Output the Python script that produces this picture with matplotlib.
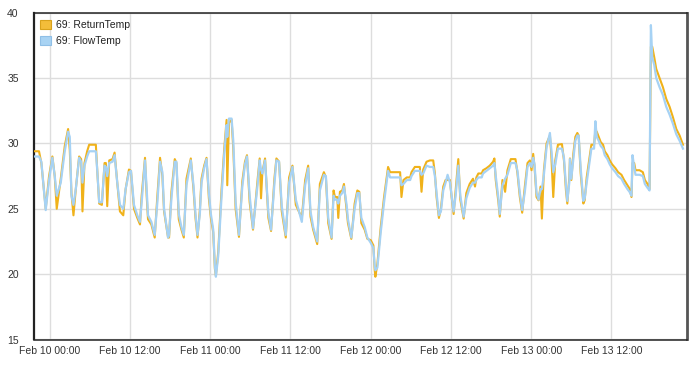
import numpy as np
import matplotlib
matplotlib.use("Agg")
import matplotlib.pyplot as plt
import matplotlib.dates as mdates
from matplotlib.patches import Patch

plt.rcParams['font.family'] = ['Liberation Sans', 'DejaVu Sans']

# hours after Feb 10 00:00
hours = [
    -2.35, -1.6, -1.25, -0.6, -0.1, 0.4, 0.75, 1.05, 1.65, 2.25, 2.75, 3.0, 3.25, 3.55, 3.9,
    4.4, 4.7, 4.9, 5.2, 5.6, 5.9, 6.9, 7.1, 7.4, 7.8, 8.2, 8.4, 8.6, 8.9, 9.4,
    9.7, 10.1, 10.5, 11.0, 11.35, 11.85, 12.15, 12.6, 13.1, 13.5, 13.75, 14.25, 14.5, 14.7, 15.2,
    15.7, 16.1, 16.5, 16.85, 17.1, 17.7,
    17.85, 18.2, 18.7, 18.95, 19.3, 19.7, 20.05, 20.45, 21.1, 21.5, 21.8, 22.1, 22.45, 22.7, 23.1,
    23.45, 23.8, 24.1, 24.45, 24.7, 24.85, 25.2, 25.7, 26.1, 26.45, 26.55, 26.8, 27.2, 27.45, 27.8,
    28.3, 28.8, 29.2, 29.5, 29.9, 30.4, 31.1, 31.4, 31.6, 31.8, 32.2, 32.7, 33.1, 33.6, 33.9,
    34.3, 34.7, 35.3, 35.8, 36.3, 36.8,
    37.7, 38.2, 38.65, 39.0, 39.4, 40.0, 40.4, 41.0, 41.3, 41.65, 42.15, 42.45, 42.65, 43.0, 43.15,
    43.4, 43.75, 44.0, 44.4, 44.6, 45.1, 45.6, 46.0, 46.3, 46.6, 47.1, 47.5, 48.0, 48.4, 48.6,
    48.7, 49.0, 49.5, 50.0, 50.6, 50.9, 52.4, 52.6, 52.9, 53.4, 53.9, 54.1, 54.6, 55.35, 55.6,
    55.85, 56.35, 56.85,
    57.35, 57.6, 57.85, 58.2, 58.5, 58.85, 59.2, 59.5, 59.85, 60.1, 60.4, 60.7, 61.1, 61.4, 61.9,
    62.3, 62.8, 63.3, 63.6, 63.8, 64.1, 64.6, 64.8, 65.3, 65.8, 66.3, 66.5, 66.7, 67.1, 67.3,
    67.7, 68.1, 68.45, 68.95, 69.65, 69.95, 70.3, 70.65, 71.05, 71.45, 71.8, 72.05, 72.3, 72.5, 72.8,
    73.1, 73.4, 73.6, 73.9, 74.3, 74.8, 75.0, 75.3, 75.6, 76.0,
    76.6, 76.9, 77.2, 77.4, 77.7, 77.8, 78.0, 78.3, 78.6, 78.9, 79.1, 79.4, 79.8, 80.0, 80.3,
    80.8, 81.0, 81.4, 81.6, 81.8, 82.1, 82.4, 82.75, 83.0, 83.4, 83.75, 84.1, 84.6, 85.0, 85.5,
    85.9, 86.4, 86.7, 87.0, 87.15, 87.4, 87.6, 88.2, 88.7, 89.0, 89.4, 89.7, 89.9, 90.1, 90.4,
    90.7, 91.2, 91.7, 92.2, 92.7, 93.2, 93.7, 94.2, 94.7,
]

return_temp = [
    29.4, 29.4, 28.5, 25.0, 27.5, 29.0, 27.5, 25.0, 27.3, 29.8, 31.1, 29.5, 26.2, 24.5, 26.5,
    29.0, 28.8, 24.8, 28.5, 29.4, 29.9, 29.9, 28.0, 25.4, 25.3, 28.5, 28.5, 25.2, 28.7, 28.8,
    29.3, 27.0, 24.8, 24.5, 26.5, 28.0, 27.9, 25.0, 24.3, 23.8, 26.0, 28.9, 26.0, 24.2, 23.8,
    22.8, 26.0, 28.9, 27.5, 24.8, 22.8,
    22.8, 26.3, 28.8, 28.5, 24.2, 23.4, 22.8, 27.3, 28.85, 26.5, 24.3, 22.8, 24.9, 27.3, 28.3,
    28.9, 25.8, 24.3, 23.2, 20.4, 19.9, 21.7, 26.5, 29.6, 31.8, 26.8, 31.6, 31.8, 29.6, 25.0,
    22.85, 27.1, 28.6, 29.1, 25.5, 23.4, 27.3, 28.85, 25.8, 27.8, 28.85, 24.3, 23.3, 27.3, 28.85,
    28.6, 24.8, 22.8, 27.4, 28.3, 25.3,
    24.3, 27.2, 28.3, 24.4, 23.4, 22.3, 26.9, 27.8, 27.4, 23.9, 22.7, 26.4, 25.9, 25.9, 24.3,
    26.3, 26.4, 26.9, 24.9, 23.9, 22.7, 25.4, 26.4, 26.3, 23.9, 23.4, 22.7, 22.6, 22.2, 20.3,
    19.8, 20.8, 23.6, 25.9, 28.2, 27.8, 27.8, 25.9, 27.2, 27.4, 27.4, 27.8, 28.2, 28.2, 26.3,
    28.0, 28.6, 28.7,
    28.7, 27.7, 25.9, 24.3, 25.0, 26.7, 27.2, 27.2, 27.2, 25.9, 24.6, 26.4, 28.8, 25.7, 24.25,
    26.2, 26.9, 27.3, 26.7, 27.4, 27.7, 27.7, 27.95, 28.1, 28.3, 28.6, 28.85, 27.2, 25.5, 24.4,
    27.2, 26.3, 27.95, 28.8, 28.8, 27.7, 25.9, 24.7, 26.7, 28.5, 28.7, 27.95, 29.2, 28.2, 25.9,
    25.65, 26.7, 24.25, 27.95, 30.0, 30.6, 29.2, 25.9, 28.7, 29.9,
    29.95, 28.7, 26.4, 25.4, 27.4, 28.85, 27.2, 29.2, 30.5, 30.8, 30.6, 27.7, 25.4, 25.66, 27.4,
    29.2, 29.9, 29.9, 31.0, 30.9, 30.5, 30.1, 29.9, 29.4, 29.1, 28.7, 28.4, 28.1, 27.8, 27.6,
    27.2, 26.8, 26.55, 25.9, 28.5, 28.5, 27.95, 27.95, 27.8, 27.2, 26.9, 26.5, 37.4, 37.4, 36.6,
    35.7, 35.0, 34.3, 33.4, 32.8, 32.0, 31.1, 30.6, 29.9,
]

flow_temp = [
    29.0, 29.0, 28.6, 24.9, 27.2, 28.9, 27.5, 26.0, 27.0, 29.4, 30.9, 30.5, 26.0, 25.3, 26.5,
    28.9, 28.6, 27.0, 28.3, 29.0, 29.4, 29.4, 28.0, 25.5, 25.5, 28.3, 28.2, 27.5, 28.5, 28.6,
    29.1, 27.0, 25.3, 25.0, 26.5, 27.8, 27.9, 25.3, 24.5, 24.0, 25.5, 28.7, 26.5, 24.5, 24.0,
    23.0, 25.5, 28.6, 27.8, 25.0, 22.8,
    23.0, 25.8, 28.6, 28.6, 24.6, 23.6, 23.0, 26.8, 28.7, 26.8, 24.6, 23.0, 24.6, 27.0, 28.1,
    28.8, 26.2, 24.6, 23.4, 20.6, 19.8, 21.4, 26.0, 29.2, 31.4, 30.5, 31.9, 31.9, 30.2, 25.5,
    23.0, 26.7, 28.4, 29.0, 26.0, 23.5, 26.9, 28.7, 28.0, 27.7, 28.7, 24.7, 23.4, 26.9, 28.7,
    28.6, 25.2, 23.0, 27.0, 28.2, 25.7,
    24.0, 26.8, 28.1, 24.8, 23.6, 22.5, 26.4, 27.6, 27.5, 24.3, 22.8, 26.0, 25.7, 25.7, 25.4,
    26.0, 26.2, 26.7, 25.3, 24.2, 22.8, 25.0, 26.2, 26.2, 24.3, 23.6, 22.8, 22.4, 22.0, 20.6,
    20.3, 20.5, 23.2, 25.5, 27.9, 27.4, 27.4, 26.8, 26.9, 27.2, 27.2, 27.5, 27.9, 27.9, 27.6,
    27.7, 28.3, 28.2,
    28.2, 27.5, 26.2, 24.5, 24.8, 26.4, 27.0, 27.6, 27.0, 26.0, 24.8, 26.0, 28.3, 26.0, 24.4,
    25.8, 26.6, 27.0, 27.0, 27.2, 27.4, 27.4, 27.7, 27.9, 28.1, 28.3, 28.5, 27.5, 25.8, 24.6,
    26.8, 27.3, 27.6, 28.5, 28.5, 27.9, 26.2, 24.9, 26.3, 28.2, 28.5, 28.2, 28.9, 28.4, 26.2,
    25.7, 26.5, 26.5, 27.6, 29.7, 30.8, 29.6, 27.8, 28.4, 29.6,
    29.6, 28.9, 26.8, 25.6, 27.0, 28.8, 27.3, 28.8, 30.2, 30.6, 30.6, 28.1, 25.6, 25.8, 27.0,
    28.9, 29.6, 29.6, 31.7, 30.5, 30.2, 29.8, 29.6, 29.1, 28.8, 28.4, 28.1, 27.8, 27.5, 27.3,
    26.9, 26.5, 26.3, 26.0, 29.1, 28.2, 27.6, 27.6, 27.5, 26.9, 26.6, 26.4, 39.05, 36.6, 36.0,
    35.0, 34.3, 33.7, 32.8, 32.2, 31.5, 30.7, 30.2, 29.6,
]

labels = ["69: ReturnTemp", "69: FlowTemp"]
y_ticks = [15, 20, 25, 30, 35, 40]

base = np.datetime64('2021-02-10T00:00')
times = base + (np.array(hours) * 3600).astype('timedelta64[s]')
x_lo = base + np.timedelta64(int(-2.35 * 3600), 's')
x_hi = base + np.timedelta64(int(95.3 * 3600), 's')

fig = plt.figure(figsize=(6.9, 3.69), dpi=100)
ax = fig.add_axes([34 / 690, 1 - 339.5 / 369, 653 / 690, 326.8 / 369])

ax.plot(times, return_temp, color='#F0B21A', lw=1.5, zorder=3)
ax.plot(times, flow_temp, color='#A6D2F4', lw=1.6, zorder=4)

ax.set_xlim(x_lo, x_hi)
ax.set_ylim(15, 40)
ax.set_yticks(y_ticks)
ax.xaxis.set_major_locator(mdates.HourLocator(byhour=[0, 12]))
ax.xaxis.set_major_formatter(mdates.DateFormatter('%b %d %H:%M'))

ax.grid(True, color='#dddddd', lw=1.0)
ax.set_axisbelow(True)
ax.tick_params(axis='both', length=0, labelsize=7.5, colors='#333333')
ax.tick_params(axis='y', pad=11)
ax.tick_params(axis='x', pad=5)

for side in ['left', 'bottom', 'top']:
    ax.spines[side].set_color('#222222')
    ax.spines[side].set_linewidth(1.1)
ax.spines['left'].set_linewidth(1.6)
ax.spines['right'].set_color('#555555')
ax.spines['right'].set_linewidth(2.0)

handles = [Patch(facecolor='#F3BD3A', edgecolor='#D9A21C', lw=0.8),
           Patch(facecolor='#A8D3F3', edgecolor='#8FBFE6', lw=0.8)]
ax.legend(handles, labels, loc='upper left', bbox_to_anchor=(-0.002, 1.0), frameon=False,
          fontsize=7.5, handlelength=1.1, handleheight=1.0, handletextpad=0.4,
          labelspacing=0.55, borderaxespad=0.3, labelcolor='#222222')

fig.savefig('out.png', dpi=100)
